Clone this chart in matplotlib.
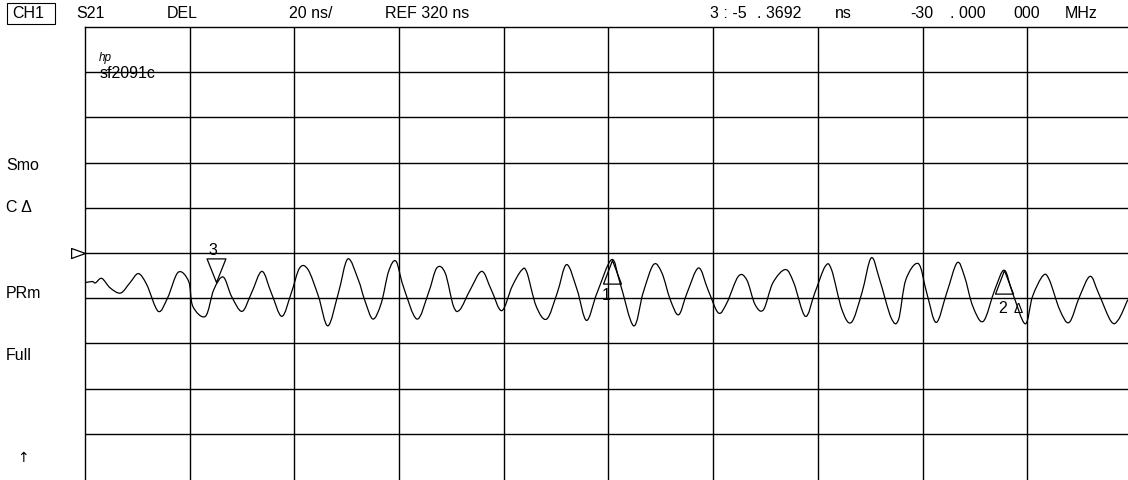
import matplotlib
matplotlib.use("Agg")
import matplotlib.pyplot as plt
from matplotlib.patches import Rectangle, PathPatch
from matplotlib.path import Path

plt.rcParams['font.family'] = ['Liberation Sans', 'DejaVu Sans']

# trace: horizontal position in grid divisions, group delay in ns
trace_div = [0.00, 0.07, 0.10, 0.16, 0.24, 0.34, 0.43, 0.51, 0.59, 0.70,
             0.79, 0.89, 0.99, 1.03, 1.15, 1.23, 1.32, 1.40, 1.50, 1.59,
             1.69, 1.78, 1.88, 1.97, 2.05, 2.13, 2.23, 2.32, 2.42, 2.51,
             2.61, 2.67, 2.75, 2.83, 2.90, 2.97, 3.04, 3.17, 3.28, 3.36,
             3.44, 3.52, 3.58, 3.68, 3.79, 3.88, 3.98, 4.08, 4.17, 4.22,
             4.31, 4.41, 4.51, 4.60, 4.70, 4.79, 4.89, 5.03, 5.11, 5.24,
             5.33, 5.43, 5.51, 5.59, 5.67, 5.75, 5.86, 5.95, 6.05, 6.13,
             6.24, 6.32, 6.40, 6.48, 6.57, 6.69, 6.77, 6.88, 6.97, 7.07,
             7.13, 7.23, 7.32, 7.42, 7.51, 7.59, 7.70, 7.77, 7.84, 7.96,
             8.04, 8.13, 8.23, 8.33, 8.40, 8.48, 8.58, 8.69, 8.78, 8.86,
             8.98, 9.05, 9.15, 9.21, 9.31, 9.40, 9.50, 9.60, 9.68, 9.80,
             9.87, 9.96]
delay_ns = [306.9, 307.4, 306.8, 308.8, 304.6, 302.3, 306.9, 310.9, 306.0, 294.2,
            300.3, 311.5, 307.5, 296.4, 292.0, 303.8, 309.4, 300.8, 294.2, 302.3,
            311.9, 302.3, 292.0, 302.3, 313.4, 312.7, 300.8, 287.8, 302.3, 317.4,
            308.2, 299.4, 290.8, 297.9, 311.9, 316.4, 305.3, 290.8, 302.3, 313.4,
            311.2, 296.4, 294.9, 303.8, 311.9, 303.8, 294.5, 305.3, 312.4, 311.5,
            296.4, 290.8, 302.3, 314.9, 303.8, 290.2, 302.3, 317.1, 306.8, 287.8,
            302.3, 314.9, 311.2, 299.4, 292.7, 302.3, 313.4, 303.8, 293.5, 297.9,
            309.7, 308.2, 297.2, 294.9, 306.8, 312.7, 306.8, 292.0, 302.3, 314.1,
            312.7, 294.9, 289.3, 302.3, 317.9, 308.2, 291.3, 290.5, 308.2, 315.3,
            302.3, 289.3, 302.3, 315.7, 309.7, 296.4, 289.8, 303.8, 312.4, 302.3,
            288.7, 300.8, 310.0, 308.2, 294.9, 289.3, 300.8, 309.7, 302.3, 289.8,
            290.5, 299.4]

ref_value = 320
scale_per_div = 20

# markers: name, position (div), value (ns)
marker_names = ["1", "2", "3"]
marker_div = [5.03, 8.78, 1.25]
marker_ns = [317.1, 312.4, 307.3]

W, H = 1128, 480
fig = plt.figure(figsize=(W / 100, H / 100), dpi=100)


def px(x, y):
    return x / W, 1 - y / H


ax = fig.add_axes([85 / W, 0, (W - 85) / W, (H - 27) / H])
ax.set_xlim(0, 9.962)
ax.set_ylim(219.6, ref_value + 5 * scale_per_div)
for xg in range(1, 10):
    ax.axvline(xg, color='black', lw=1.0)
for k in range(-4, 5):
    ax.axhline(ref_value + k * scale_per_div, color='black', lw=1.0)
ax.spines['right'].set_visible(False)
ax.spines['bottom'].set_visible(False)
ax.spines['top'].set_linewidth(1.0)
ax.spines['left'].set_linewidth(1.0)
ax.set_xticks([])
ax.set_yticks([])

# smooth trace through the measured points (Catmull-Rom drawn as bezier curves)
pts = list(zip(trace_div, delay_ns))
verts = [pts[0]]
codes = [Path.MOVETO]
for i in range(len(pts) - 1):
    p0 = pts[max(i - 1, 0)]
    p1 = pts[i]
    p2 = pts[i + 1]
    p3 = pts[min(i + 2, len(pts) - 1)]
    c1 = (p1[0] + (p2[0] - p0[0]) / 6, p1[1] + (p2[1] - p0[1]) / 6)
    c2 = (p2[0] - (p3[0] - p1[0]) / 6, p2[1] - (p3[1] - p1[1]) / 6)
    verts += [c1, c2, p2]
    codes += [Path.CURVE4] * 3
ax.add_patch(PathPatch(Path(verts, codes), fill=False, edgecolor='black', lw=0.9))

# reference position pointer
ax.plot([0], [ref_value], marker=[(0, 0), (-1, -0.36), (-1, 0.36), (0, 0)],
        ms=20, mfc='white', mec='black', mew=0.9, clip_on=False, zorder=5)

up_tri = [(0, 0), (-0.38, -1), (0.38, -1), (0, 0)]
down_tri = [(0, 0), (-0.4, 1), (0.4, 1), (0, 0)]
label_offsets = {"1": (-5, -36), "2": (-2, -38), "3": (-3, 31)}
for name, xd, yv in zip(marker_names, marker_div, marker_ns):
    shape = down_tri if name == "3" else up_tri
    ax.plot([xd], [yv], marker=shape, ms=34, mfc='none', mec='black', mew=0.9)
    ax.annotate(name, (xd, yv), xytext=label_offsets[name],
                textcoords='offset pixels', ha='center', va='center', fontsize=11.5)
ax.annotate("\u0394", (marker_div[1], marker_ns[1]), xytext=(14, -39),
            textcoords='offset pixels', ha='center', va='center', fontsize=10)

# header line
fig.patches.append(Rectangle(px(7, 24), 48 / W, 21 / H, transform=fig.transFigure,
                             fill=False, edgecolor='black', lw=0.8))
header = [("CH1", 12), ("S21", 76), ("DEL", 167), ("20 ns/", 289), ("REF 320 ns", 385),
          ("3 : -5", 710), (". 3692", 757), ("ns", 835), ("-30", 910),
          (". 000", 950), ("000", 1013), ("MHz", 1065)]
for txt, xp in header:
    fig.text(*px(xp, 13), txt, ha='left', va='center', fontsize=11.5)

# left annotations
side = [("Smo", 6, 165), ("C \u0394", 6, 208), ("PRm", 6, 294), ("Full", 6, 356)]
for txt, xp, yp in side:
    fig.text(*px(xp, yp), txt, ha='left', va='center', fontsize=11.5)
fig.text(*px(23, 458), "\u2191", ha='center', va='center', fontsize=10,
         family='DejaVu Sans')

fig.text(*px(99, 58), "hp", ha='left', va='center', fontsize=8.5, style='italic')
fig.text(*px(100, 73), "sf2091c", ha='left', va='center', fontsize=11.5)

fig.savefig("out.png", dpi=100)
